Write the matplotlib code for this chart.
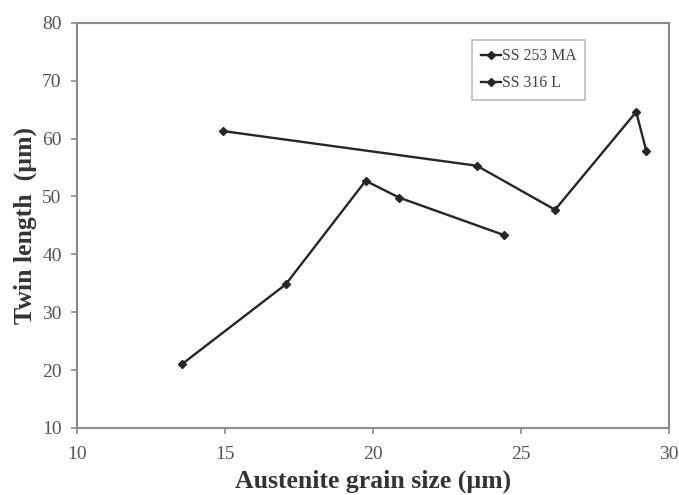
import matplotlib
matplotlib.use("Agg")
import matplotlib.pyplot as plt

grain_253 = [13.54, 17.05, 19.75, 20.88, 24.44]
twin_253 = [21.0, 34.8, 52.7, 49.8, 43.3]
grain_316 = [14.92, 23.51, 26.15, 28.89, 29.23]
twin_316 = [61.3, 55.3, 47.7, 64.6, 57.9]
labels = ["SS 253 MA", "SS 316 L"]
xticks = [10, 15, 20, 25, 30]
yticks = [10, 20, 30, 40, 50, 60, 70, 80]

plt.rcParams['font.family'] = ['Liberation Serif', 'DejaVu Serif']

fig = plt.figure(figsize=(6.79, 4.95), dpi=100)
ax = fig.add_axes([0.1134, 0.1354, 0.8719, 0.8186])

lc = '#262626'
ax.plot(grain_253, twin_253, color=lc, lw=1.7, marker='D', ms=4, label=labels[0])
ax.plot(grain_316, twin_316, color=lc, lw=1.7, marker='D', ms=4, label=labels[1])

ax.set_xlim(10, 30)
ax.set_ylim(10, 80)
ax.set_xticks(xticks)
ax.set_yticks(yticks)
for s in ax.spines.values():
    s.set_color('#8a8a8a')
    s.set_linewidth(1.5)
ax.tick_params(direction='out', length=4, width=1.2, color='#8a8a8a',
               labelsize=14, labelcolor='#555555')
ax.tick_params(axis='x', pad=9)
ax.tick_params(axis='y', pad=7)

ax.set_xlabel('Austenite grain size (µm)', fontsize=18.5, fontweight='bold', color='#333333', labelpad=5)
ax.set_ylabel('Twin length  (µm)', fontsize=18.5, fontweight='bold', color='#333333', labelpad=4)

leg = ax.legend(loc='upper left', bbox_to_anchor=(0.667, 0.958), fontsize=11.3,
                frameon=True, fancybox=False, edgecolor='#aaaaaa', handlelength=1.3,
                handletextpad=0.05, borderpad=0.55, labelspacing=0.7, borderaxespad=0)
for t in leg.get_texts():
    t.set_color('#444444')
leg.get_frame().set_linewidth(1.2)

fig.savefig('out.png', dpi=100)
